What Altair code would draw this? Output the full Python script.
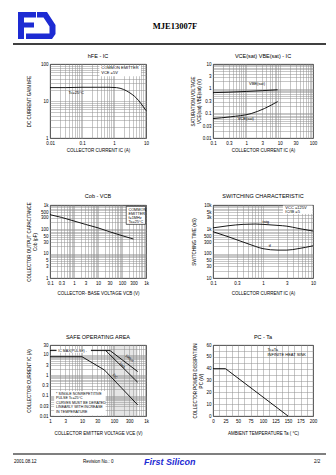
import altair as alt
import pandas as pd

FONT = "Liberation Sans"
BLUE = "#1d2bd3"

# ---------------- data ----------------
hfe_ic = [0.01, 0.03, 0.1, 0.3, 0.7, 1.2, 2, 3, 5, 7, 10]
hfe_val = [23, 23, 23.5, 23.5, 23.5, 23, 20.5, 17, 12, 8.5, 5.5]

vbe_ic = [0.1, 0.3, 1, 3, 8.7]
vbe_val = [0.69, 0.72, 0.77, 0.83, 0.9]
vce_ic = [0.1, 0.33, 1.4, 3.5, 8.7]
vce_val = [0.061, 0.072, 0.098, 0.157, 0.30]

cob_vcb = [0.1, 0.3, 1, 3, 10, 30, 100, 300]
cob_val = [400, 310, 220, 160, 115, 80, 55, 40]

sw_ic = [0.1, 0.2, 0.4, 0.7, 1, 2, 3, 5, 10]
tstg_val = [1150, 1400, 1600, 1650, 1600, 1450, 1350, 1100, 850]
tf_val = [800, 500, 300, 200, 160, 140, 140, 160, 210]

soa_dc_v = [1, 10, 50, 550]
soa_dc_i = [8, 8, 1.8, 0.035]
soa_1ms_v = [55, 550]
soa_1ms_i = [16, 0.45]
soa_pulse_v = [1, 75, 550]
soa_pulse_i = [16, 16, 1.5]

pc_ta = [0, 25, 150]
pc_val = [40, 40, 0]

# tick labels
hfe_x_lab = ([0.01, 0.1, 1, 10], ["0.01", "0.1", "1", "10"])
hfe_y_lab = ([1, 10, 100], ["1", "10", "100"])
sat_x_lab = ([0.1, 0.3, 1, 3, 10, 30, 100], ["0.1", "0.3", "1", "3", "10", "30", "100"])
sat_y_lab = ([0.01, 0.03, 0.1, 0.3, 1, 3, 10], ["0.01", "0.03", "0.1", "0.3", "1", "3", "10"])
cob_x_lab = ([0.1, 0.3, 1, 3, 10, 30, 100, 300, 1000], ["0.1", "0.3", "1", "3", "10", "30", "100", "300", "1k"])
cob_y_lab = ([1, 3, 5, 10, 30, 50, 100, 300, 500, 1000], ["1", "3", "5", "10", "30", "50", "100", "300", "500", "1k"])
sw_x_lab = ([0.1, 0.3, 1, 3, 10], ["0.1", "0.3", "1", "3", "10"])
sw_y_lab = ([10, 30, 50, 100, 300, 500, 1000, 3000, 5000, 10000], ["10", "30", "50", "100", "300", "500", "1k", "3k", "5k", "10k"])
soa_x_lab = ([1, 3, 10, 30, 100, 300, 1000], ["1", "3", "10", "30", "100", "300", "1k"])
soa_y_lab = ([0.01, 0.03, 0.1, 0.3, 1, 3, 10, 30], ["0.01", "0.03", "0.1", "0.3", "1", "3", "10", "30"])


def log_values(e0, e1, vmax=None):
    v = []
    for e in range(e0, e1):
        for k in range(1, 10):
            v.append(float(f"{k}e{e}"))
    v.append(float(f"1e{e1}"))
    if vmax is not None:
        v = [a for a in v if a <= vmax]
    return v


def lab_expr(lab):
    vals, texts = lab
    s = "''"
    for v, t in reversed(list(zip(vals, texts))):
        s = f"datum.value == {float(v)!r} ? '{t}' : {s}"
    return s


def xaxis(values, lab, title, ty):
    return alt.Axis(values=values, labelExpr=lab_expr(lab), title=title,
                    titleY=ty, titleBaseline="middle", grid=True, labelFlush=False,
                    labelOverlap=False)


def yaxis(values, lab, title, tx, h):
    return alt.Axis(values=values, labelExpr=lab_expr(lab), title=title,
                    titleX=tx, titleY=h / 2, titleAngle=-90, titleAlign="center",
                    titleBaseline="middle", grid=True, labelOverlap=False)


def logscale(d):
    return alt.Scale(type="log", domain=d, nice=False)


def line(df, X, Y, interp="monotone", detail=None):
    enc = dict(x=X, y=Y)
    if detail:
        enc["detail"] = detail
    return alt.Chart(df).mark_line(color="black", strokeWidth=0.9, interpolate=interp).encode(**enc)


def texts(df, X, Y, size=4, **kw):
    return alt.Chart(df).mark_text(fontSize=size, font=FONT, color="black", align="left",
                                   baseline="middle", **kw).encode(x=X, y=Y, text="t:N")


def box(df, X, Y, stroke=None):
    kw = dict(color="white")
    if stroke:
        kw = dict(fill="white", stroke=stroke, strokeWidth=0.6)
    return alt.Chart(df).mark_rect(**kw).encode(x=X, x2="x2:Q", y=Y, y2="y2:Q")


ONE = alt.InlineData(values=[{"k": 0}])


def ptitle(s, w, dy=-8.5):
    return alt.Chart(ONE).mark_text(text=s, fontSize=5.5, font=FONT, color="black",
                                    align="center", baseline="middle").encode(
        x=alt.value(w / 2), y=alt.value(dy))


# ---------------- decorations (header / footer) ----------------
OX, OY = 49, 63


def vtext(x, y, s, size, **kw):
    return alt.Chart(ONE).mark_text(text=s, fontSize=size, baseline="middle", **kw).encode(
        x=alt.value(x - OX), y=alt.value(y - OY))


def vrect(x1, x2, y1, y2, color):
    return alt.Chart(ONE).mark_rect(color=color).encode(
        x=alt.value(x1 - OX), x2=alt.value(x2 - OX), y=alt.value(y1 - OY), y2=alt.value(y2 - OY))


# logo outline (page pixels), drawn as one custom symbol path
LCX, LCY, LR = 36.0, 24.5, 19.0
F_poly = [(17, 11), (35, 11), (35, 16.5), (23, 16.5), (23, 21.5), (33, 21.5), (33, 26.5),
          (23, 26.5), (23, 38), (17, 38)]
S_poly = [(36, 11), (46, 11), (54.5, 24), (54.5, 33), (51, 38), (25, 38), (25, 32.5),
          (48.5, 32.5), (48.5, 25.5), (42.5, 16.5), (36, 16.5)]


def poly_path(pts):
    s = ""
    for i, (x, y) in enumerate(pts):
        s += ("M" if i == 0 else "L") + f"{(x - LCX) / LR:.4f},{(y - LCY) / LR:.4f}"
    return s + "Z"


logo = alt.Chart(ONE).mark_point(shape=poly_path(F_poly) + poly_path(S_poly), size=(2 * LR) ** 2,
                                 filled=True, color=BLUE, opacity=1, strokeWidth=0).encode(
    x=alt.value(LCX - OX), y=alt.value(LCY - OY))

deco = [
    logo,
    vtext(174, 24.5, "MJE13007F", 8.5, font="Liberation Serif", fontWeight="bold", align="center"),
    vrect(12, 325, 42.3, 43.8, "black"),
    vrect(12, 325, 452.4, 453.6, "black"),
    vtext(13, 460.5, "2001.08.12", 4.5, font=FONT, align="left"),
    vtext(82, 460.5, "Revision No.: 0", 4.5, font=FONT, align="left"),
    vtext(143, 460.5, "First Silicon", 9, font=FONT, fontWeight="bold", fontStyle="italic",
          color=BLUE, align="left"),
    vtext(313, 460.5, "2/2", 4.5, font=FONT, align="left"),
]

WL, WR = 96, 100
H1, H2, H3 = 74, 73, 71

# ---------------- chart 1: hFE - Ic ----------------
X1 = alt.X("x:Q", scale=logscale([0.01, 10]), axis=xaxis(log_values(-2, 1), hfe_x_lab, "COLLECTOR CURRENT IC  (A)", 12))
Y1 = alt.Y("y:Q", scale=logscale([1, 100]), axis=yaxis(log_values(0, 2), hfe_y_lab, "DC CURRENT GAIN hFE", -21, H1))
c1 = alt.layer(
    box(pd.DataFrame({"x": [0.35], "x2": [7.0], "y": [88], "y2": [47]}), X1, Y1),
    line(pd.DataFrame({"x": hfe_ic, "y": hfe_val}), X1, Y1),
    texts(pd.DataFrame({"x": [0.4, 0.4, 0.038], "y": [78, 57, 16.5],
                        "t": ["COMMON EMITTER", "VCE =5V", "Tc=25°C"]}), X1, Y1),
    ptitle("hFE - IC", WL),
    *deco,
).properties(width=WL, height=H1)

# ---------------- chart 2: saturation ----------------
X2 = alt.X("x:Q", scale=logscale([0.1, 100]), axis=xaxis(log_values(-1, 2), sat_x_lab, "COLLECTOR CURRENT IC  (A)", 12))
Y2 = alt.Y("y:Q", scale=logscale([0.01, 10]), axis=yaxis(log_values(-2, 1), sat_y_lab,
                                                       ["SATURATION VOLTAGE", "VCE(sat) VBE(sat)  (V)"], -20, H1))
sat_df = pd.DataFrame({"x": vbe_ic + vce_ic, "y": vbe_val + vce_val,
                       "s": ["VBE"] * len(vbe_ic) + ["VCE"] * len(vce_ic)})
c2 = alt.layer(
    line(sat_df, X2, Y2, detail="s:N"),
    texts(pd.DataFrame({"x": [1.2, 0.55], "y": [1.5, 0.058], "t": ["VBE(sat)", "VCE(sat)"]}), X2, Y2),
    ptitle("VCE(sat)  VBE(sat) - IC", WR),
).properties(width=WR, height=H1)

# ---------------- chart 3: Cob ----------------
X3 = alt.X("x:Q", scale=logscale([0.1, 1000]), axis=xaxis(log_values(-1, 3), cob_x_lab, "COLLECTOR- BASE VOLTAGE VCB  (V)", 15))
Y3 = alt.Y("y:Q", scale=logscale([1, 1000]), axis=yaxis(log_values(0, 3), cob_y_lab,
                                                      ["COLLECTOR OUTPUT CAPACITANCE", "Cob  (pF)"], -21, H2))
c3 = alt.layer(
    line(pd.DataFrame({"x": cob_vcb, "y": cob_val}), X3, Y3, interp="linear"),
    box(pd.DataFrame({"x": [150], "x2": [950], "y": [880], "y2": [160]}), X3, Y3, stroke="black"),
    texts(pd.DataFrame({"x": [185] * 4, "y": [640, 430, 295, 200],
                        "t": ["COMMON", "EMITTER", "f=1MHz", "Ta=25°C"]}), X3, Y3, size=3.8),
    ptitle("Cob - VCB", WL, -9),
).properties(width=WL, height=H2)

# ---------------- chart 4: switching ----------------
X4 = alt.X("x:Q", scale=logscale([0.1, 10]), axis=xaxis(log_values(-1, 1), sw_x_lab, "COLLECTOR CURRENT IC  (A)", 15))
Y4 = alt.Y("y:Q", scale=logscale([10, 10000]), axis=yaxis(log_values(1, 4), sw_y_lab, "SWITCHING TIME  (nS)", -19, H2))
sw_df = pd.DataFrame({"x": sw_ic + sw_ic, "y": tstg_val + tf_val, "s": ["tstg"] * len(sw_ic) + ["tf"] * len(sw_ic)})
c4 = alt.layer(
    box(pd.DataFrame({"x": [2.5], "x2": [9.8], "y": [9500], "y2": [4300]}), X4, Y4),
    line(sw_df, X4, Y4, detail="s:N"),
    texts(pd.DataFrame({"x": [2.8, 2.8, 0.98, 1.3], "y": [7500, 5150, 2000, 205],
                        "t": ["VCC =125V", "IC/IB =5", "tstg", "tf"]}), X4, Y4),
    ptitle("SWITCHING CHARACTERISTIC", WR, -9),
).properties(width=WR, height=H2)

# ---------------- chart 5: SOA ----------------
X5 = alt.X("x:Q", scale=logscale([1, 1000]), axis=xaxis(log_values(0, 3), soa_x_lab, "COLLECTOR EMITTER VOLTAGE VCE  (V)", 17))
Y5 = alt.Y("y:Q", scale=logscale([0.01, 30]), axis=yaxis(log_values(-2, 2, 30), soa_y_lab, "COLLECTOR CURRENT IC  (A)", -21, H3))
soa_df = pd.DataFrame({"x": soa_dc_v + soa_1ms_v + soa_pulse_v,
                       "y": soa_dc_i + soa_1ms_i + soa_pulse_i,
                       "s": ["DC"] * len(soa_dc_v) + ["1ms"] * len(soa_1ms_v) + ["pulse"] * len(soa_pulse_v)})
c5 = alt.layer(
    alt.Chart(pd.DataFrame({"x": [75], "x2": [550], "y": [0.01], "y2": [30]})).mark_rect(
        color="#999999", opacity=0.25).encode(x=X5, x2="x2:Q", y=Y5, y2="y2:Q"),
    line(soa_df, X5, Y5, interp="linear", detail="s:N"),
    box(pd.DataFrame({"x": [1.6, 1.35], "x2": [19, 55], "y": [19, 0.17], "y2": [12.5, 0.0105]}), X5, Y5),
    texts(pd.DataFrame({"x": [1.8, 1.55, 1.55, 1.55, 1.55, 1.55],
                        "y": [15.5, 0.121, 0.074, 0.045, 0.0265, 0.016],
                        "t": ["IC  MAX(PULSE) -", "* SINGLE NONREPETITIVE", "   PULSE Tc=25°C",
                              "CURVES MUST BE DERATED", "LINEARLY WITH INCREASE", "IN TEMPERATURE"]}),
          X5, Y5, size=3.6),
    texts(pd.DataFrame({"x": [95], "y": [1.1], "t": ["DC"]}), X5, Y5, size=3.6, angle=47),
    texts(pd.DataFrame({"x": [150], "y": [4.0], "t": ["1ms"]}), X5, Y5, size=3.6, angle=45),
    texts(pd.DataFrame({"x": [230], "y": [9.5], "t": ["100μs"]}), X5, Y5, size=3.6, angle=38),
    ptitle("SAFE OPERATING AREA", WL, -8),
).properties(width=WL, height=H3)

# ---------------- chart 6: Pc - Ta ----------------
pc_x_vals = [0, 12.5, 25, 37.5, 50, 62.5, 75, 87.5, 100, 112.5, 125, 137.5, 150, 162.5, 175, 187.5, 200]
pc_y_vals = [0, 5, 10, 15, 20, 25, 30, 35, 40, 45, 50, 55, 60]
X6 = alt.X("x:Q", scale=alt.Scale(domain=[0, 200], nice=False, zero=False),
           axis=alt.Axis(values=pc_x_vals, labelExpr="datum.value % 25 == 0 ? datum.label : ''",
                         title="AMBIENT TEMPERATURE Ta ( °C)", titleY=17, titleBaseline="middle",
                         grid=True, labelFlush=False, labelOverlap=False))
Y6 = alt.Y("y:Q", scale=alt.Scale(domain=[0, 60], nice=False),
           axis=alt.Axis(values=pc_y_vals, labelExpr="datum.value % 10 == 0 ? datum.label : ''",
                         title=["COLLECTOR POWER DISSIPATION", "PC  (W)"], titleX=-18, titleY=H3 / 2,
                         titleAngle=-90, titleAlign="center", titleBaseline="middle", grid=True,
                         labelOverlap=False))
c6 = alt.layer(
    line(pd.DataFrame({"x": pc_ta, "y": pc_val}), X6, Y6, interp="linear"),
    texts(pd.DataFrame({"x": [109, 109], "y": [55.8, 51.5], "t": ["Tc=Ta", "INFINITE HEAT SINK"]}), X6, Y6),
    ptitle("PC - Ta", WR, -8),
).properties(width=WR, height=H3)

chart = alt.concat(c1, c2, c3, c4, c5, c6, columns=2, spacing=67, bounds="flush").properties(
    padding={"left": 12, "top": 11, "right": 0, "bottom": 0}
).configure(font=FONT).configure_axis(
    labelFontSize=4.5, titleFontSize=4.5, titleFontWeight="normal", labelColor="black",
    titleColor="black", gridColor="#8f8f8f", gridWidth=0.5, domain=False, ticks=False,
    labelPadding=2, labelFont=FONT, titleFont=FONT,
).configure_view(stroke="black", strokeWidth=0.9)

chart.save("out.html", embed_options={"renderer": "svg", "actions": False})
